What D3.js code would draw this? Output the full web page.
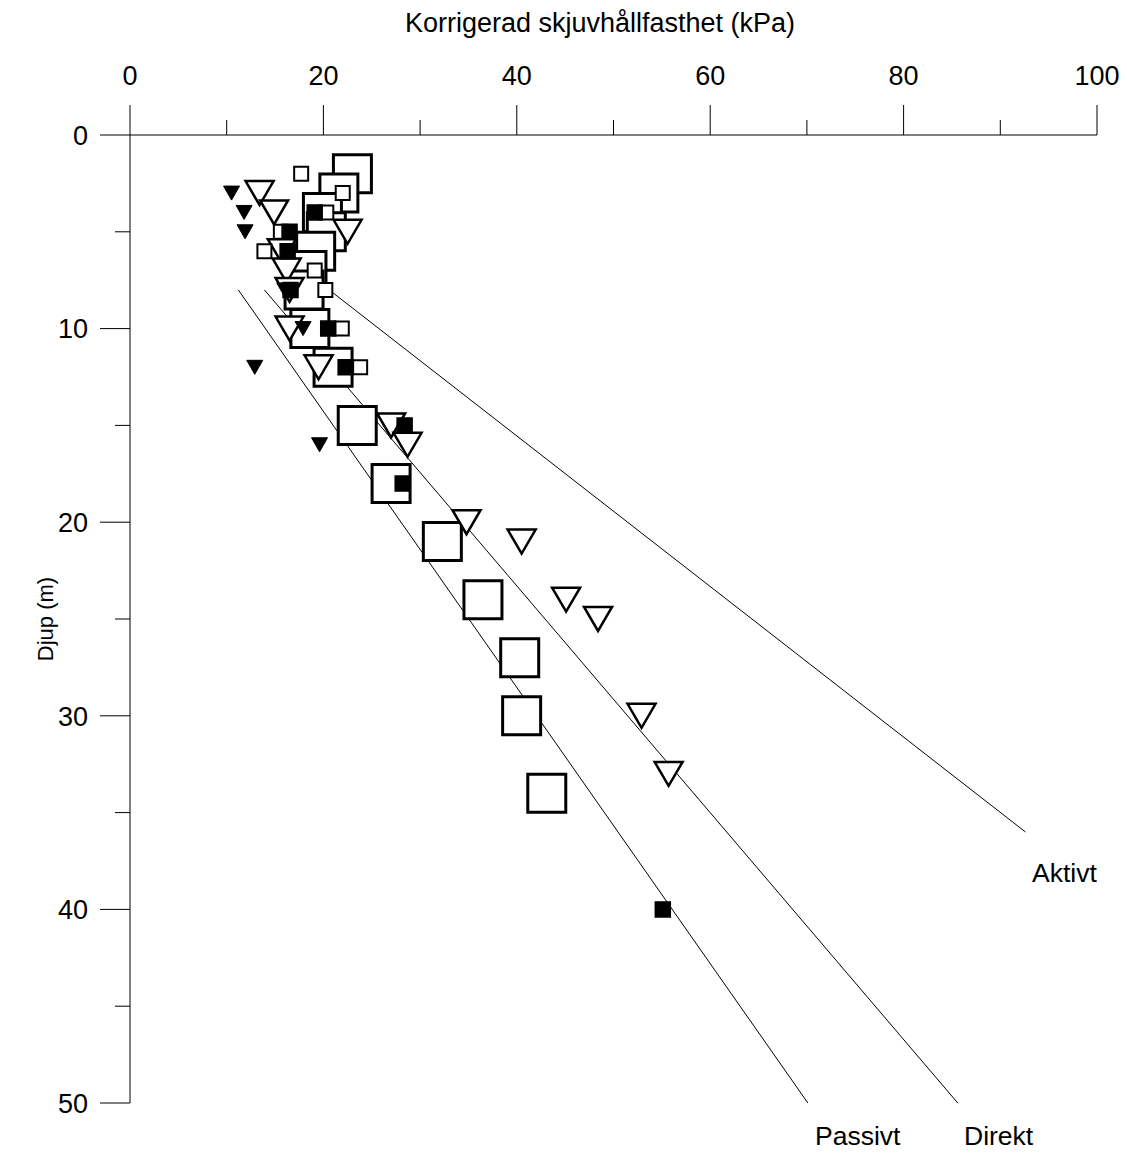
<!DOCTYPE html>
<html>
<head>
<meta charset="utf-8">
<script src="https://cdn.jsdelivr.net/npm/d3@7"></script>
<style>
  html, body { margin: 0; padding: 0; background: #fff; }
  text { font-family: "Liberation Sans", Arial, sans-serif; fill: #000; }
</style>
</head>
<body>
<svg id="chart" width="1127" height="1153"></svg>
<script>
// Corrected undrained shear strength (kPa) versus depth (m)

// Large open squares
const bigSqDepth = [2, 3, 4, 5, 6, 7, 8, 10, 12, 15, 18, 21, 24, 27, 30, 34];
const bigSqSu    = [23.0, 21.6, 19.9, 20.3, 19.2, 18.3, 18.0, 18.6, 21.0, 23.5, 27.0, 32.3, 36.5, 40.3, 40.5, 43.1];

// Small open squares
const smallSqDepth = [2, 3, 4, 5, 6, 7, 8, 10, 12];
const smallSqSu    = [17.7, 22.0, 20.3, 15.6, 13.9, 19.1, 20.2, 21.9, 23.8];

// Small filled squares
const filledSqDepth = [4, 5, 6, 8, 10, 12, 15, 18, 40];
const filledSqSu    = [19.1, 16.5, 16.3, 16.6, 20.5, 22.3, 28.4, 28.2, 55.1];

// Open triangles
const openTriDepth = [3, 4, 5, 6, 7, 8, 10, 12, 15, 16, 20, 21, 24, 25, 30, 33];
const openTriSu    = [13.4, 14.9, 22.5, 15.7, 16.2, 16.5, 16.5, 19.5, 27.0, 28.7, 34.8, 40.5, 45.1, 48.4, 52.9, 55.7];

// Filled triangles
const filledTriDepth = [3, 4, 5, 8, 10, 12, 16];
const filledTriSu    = [10.5, 11.8, 11.9, 16.0, 17.9, 12.9, 19.6];

// Reference lines: start and end points in (kPa, m)
const lineNames = ["Passivt", "Direkt", "Aktivt"];
const lineStartSu = [11.2, 13.9, 20.6];
const lineStartDepth = [8, 8, 8];
const lineEndSu = [70.1, 85.6, 92.6];
const lineEndDepth = [50, 50, 36];

const xMajorTicks = [0, 20, 40, 60, 80, 100];
const xMinorTicks = [10, 30, 50, 70, 90];
const yMajorTicks = [0, 10, 20, 30, 40, 50];
const yMinorTicks = [5, 15, 25, 35, 45];

const xTitle = "Korrigerad skjuvhållfasthet (kPa)";
const yTitle = "Djup (m)";

const svg = d3.select("#chart");
const x = d3.scaleLinear().domain([0, 100]).range([130, 1097]);
const y = d3.scaleLinear().domain([0, 50]).range([135, 1103]);

// Axes: x along the top, y on the left
const gx = svg.append("g");
gx.append("line").attr("x1", x(0)).attr("x2", x(100)).attr("y1", y(0)).attr("y2", y(0))
  .attr("stroke", "#000").attr("stroke-width", 1);
gx.selectAll(".xmaj").data(xMajorTicks).join("line")
  .attr("x1", d => x(d)).attr("x2", d => x(d)).attr("y1", y(0)).attr("y2", y(0) - 30)
  .attr("stroke", "#000");
gx.selectAll(".xmin").data(xMinorTicks).join("line")
  .attr("x1", d => x(d)).attr("x2", d => x(d)).attr("y1", y(0)).attr("y2", y(0) - 15)
  .attr("stroke", "#000");
gx.selectAll(".xlab").data(xMajorTicks).join("text")
  .attr("x", d => x(d)).attr("y", 85).attr("text-anchor", "middle")
  .attr("font-size", 27).text(d => d);
svg.append("text").attr("x", 600).attr("y", 32).attr("text-anchor", "middle")
  .attr("font-size", 27).text(xTitle);

const gy = svg.append("g");
gy.append("line").attr("x1", x(0)).attr("x2", x(0)).attr("y1", y(0)).attr("y2", y(50))
  .attr("stroke", "#000");
gy.selectAll(".ymaj").data(yMajorTicks).join("line")
  .attr("x1", x(0) - 30).attr("x2", x(0)).attr("y1", d => y(d)).attr("y2", d => y(d))
  .attr("stroke", "#000");
gy.selectAll(".ymin").data(yMinorTicks).join("line")
  .attr("x1", x(0) - 15).attr("x2", x(0)).attr("y1", d => y(d)).attr("y2", d => y(d))
  .attr("stroke", "#000");
gy.selectAll(".ylab").data(yMajorTicks).join("text")
  .attr("x", 88).attr("y", d => y(d)).attr("dy", "0.36em").attr("text-anchor", "end")
  .attr("font-size", 27).text(d => d);
svg.append("text").attr("transform", `translate(45,${y(25)}) rotate(-90)`)
  .attr("text-anchor", "middle").attr("dy", "0.35em").attr("font-size", 22).text(yTitle);

// Reference lines with end labels
const lines = lineNames.map((n, i) => ({
  name: n, x1: lineStartSu[i], y1: lineStartDepth[i], x2: lineEndSu[i], y2: lineEndDepth[i]
}));
svg.selectAll(".refline").data(lines).join("line")
  .attr("x1", d => x(d.x1)).attr("y1", d => y(d.y1))
  .attr("x2", d => x(d.x2)).attr("y2", d => y(d.y2))
  .attr("stroke", "#000").attr("stroke-width", 1);
svg.append("text").attr("x", 1032).attr("y", 882).attr("font-size", 26.5).text("Aktivt");
svg.append("text").attr("x", 815).attr("y", 1145).attr("font-size", 26.5).text("Passivt");
svg.append("text").attr("x", 964).attr("y", 1145).attr("font-size", 26.5).text("Direkt");

// Markers
function zip(a, b) { return a.map((v, i) => ({ su: b[i], d: v })); }
const sqPath = s => `M${-s/2},${-s/2}H${s/2}V${s/2}H${-s/2}Z`;
const triPath = (w, h) => `M${-w/2},${-h/2}H${w/2}L0,${h/2}Z`;

function drawMarkers(data, path, fill, strokeW) {
  svg.append("g").selectAll("path").data(data).join("path")
    .attr("transform", d => `translate(${x(d.su)},${y(d.d)})`)
    .attr("d", path)
    .attr("fill", fill)
    .attr("stroke", "#000")
    .attr("stroke-width", strokeW)
    .attr("stroke-linejoin", "miter");
}

drawMarkers(zip(bigSqDepth, bigSqSu), sqPath(38), "#fff", 3);
drawMarkers(zip(openTriDepth, openTriSu), triPath(28, 24), "#fff", 2.5);
drawMarkers(zip(smallSqDepth, smallSqSu), sqPath(14), "#fff", 2);
drawMarkers(zip(filledSqDepth, filledSqSu), sqPath(15), "#000", 1.5);
drawMarkers(zip(filledTriDepth, filledTriSu), triPath(16, 14), "#000", 1);
</script>
</body>
</html>
